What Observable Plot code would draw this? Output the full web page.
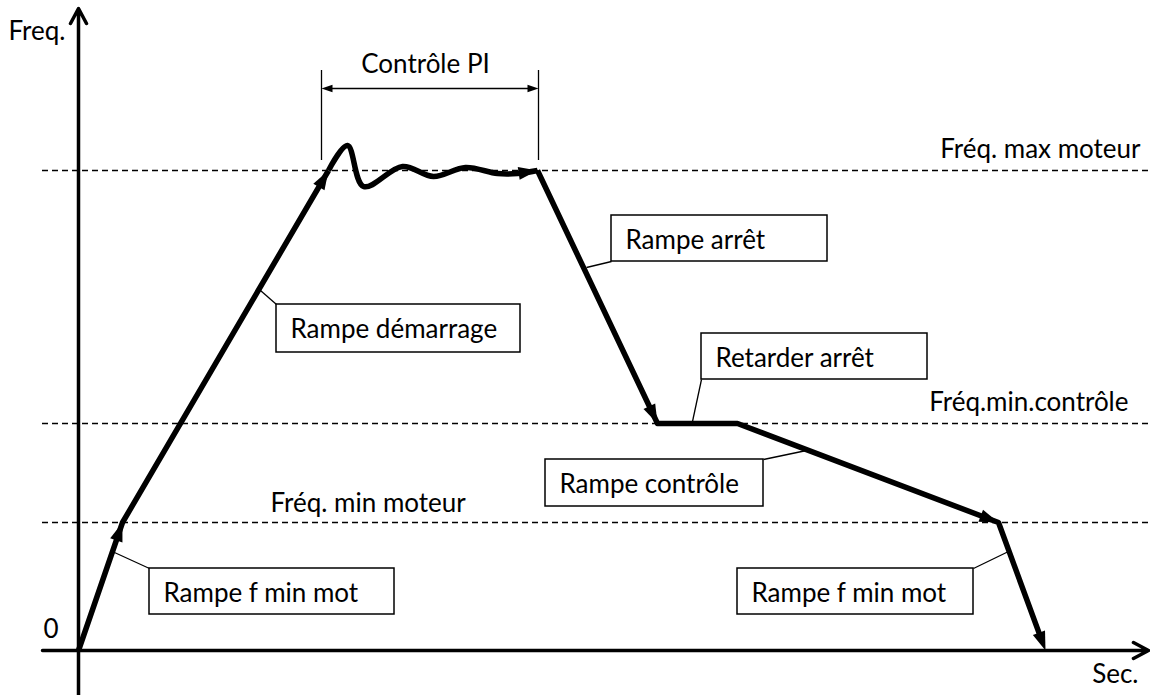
<!DOCTYPE html>
<html>
<head>
<meta charset="utf-8">
<script src="https://cdn.jsdelivr.net/npm/d3@7"></script>
<script src="https://cdn.jsdelivr.net/npm/@observablehq/plot@0.6"></script>
<style>
  body { margin: 0; background: #ffffff; }
  #chart svg { display: block; }
</style>
</head>
<body>
<div id="chart"></div>
<script>
// ---- Data (time in s, frequency in arbitrary units) ----
const levelNames = ["Fréq. max moteur", "Fréq.min.contrôle", "Fréq. min moteur"];
const levelValues = [48, 22.7, 12.8];
const levelLabelT = [106.2, 105.0, 19.2];
const levelLabelF = [50.1, 24.8, 14.7];
const levelLabelAnchor = ["end", "end", "start"];

// Start ramps: 0 -> f min moteur -> f max moteur
const startT = [0, 4.4, 25.0];
const startF = [0, 12.8, 48];
// PI control oscillation around f max
const piT = [25.0, 26.9, 28.5, 32.4, 35.5, 38.7, 41.9, 43.9, 45.9];
const piF = [48, 50.5, 46.4, 48.4, 47.4, 48.3, 47.7, 47.7, 48];
// Stop ramps
const stopT = [45.9, 57.9, 65.9, 92.0, 96.7];
const stopF = [48, 22.7, 22.7, 12.8, 0];

// PI control span
const piSpanT = [24.3, 46.0];
const piSpanF = [49, 58];
const piArrowF = 56.2;

// Annotation boxes
const boxLabels = ["Rampe f min mot", "Rampe démarrage", "Rampe arrêt", "Retarder arrêt", "Rampe contrôle", "Rampe f min mot"];
const boxT1 = [7.1, 19.8, 53.3, 62.3, 46.7, 65.9];
const boxT2 = [31.6, 44.2, 74.9, 84.9, 68.5, 89.5];
const boxFTop = [8.2, 34.6, 43.5, 31.7, 19.1, 8.2];
const boxFBottom = [3.6, 29.8, 38.9, 27.1, 14.4, 3.6];
// Leader lines: point on curve -> box corner
const leaderT1 = [3.6, 18.2, 50.8, 61.4, 72.8, 93.0];
const leaderF1 = [9.8, 36.0, 38.3, 22.9, 20.0, 9.9];
const leaderT2 = [7.1, 19.8, 53.3, 62.3, 68.5, 89.5];
const leaderF2 = [8.2, 34.6, 38.9, 27.1, 19.1, 8.2];

// Axis texts
const axisTexts = ["Freq.", "0", "Sec.", "Contrôle PI"];
const axisTextT = [-7.0, -3.5, 106.0, 34.7];
const axisTextF = [61.9, 2.1, -2.4, 58.6];
const axisTextAnchor = ["start", "start", "end", "middle"];

// ---- Derived tables ----
const zip = (ts, fs) => ts.map((t, i) => ({t, f: fs[i]}));
const startPts = zip(startT, startF);
const piPts = zip(piT, piF);
const stopPts = zip(stopT, stopF);

function head(pts, i) {
  const a = pts[i - 1], b = pts[i];
  return {t: b.t, f: b.f, angle: Math.atan2(b.t - a.t, b.f - a.f) * 180 / Math.PI};
}
const heads = [
  head(startPts, 1), head(startPts, 2),
  head(piPts, piPts.length - 1),
  head(stopPts, 1), head(stopPts, 3), head(stopPts, 4)
];
// shorten last stop segment so the line does not poke through the tip
const stopDraw = stopPts.map((p, i) => {
  if (i !== stopPts.length - 1) return p;
  const a = stopPts[i - 1], dx = p.t - a.t, dy = p.f - a.f, L = Math.hypot(dx, dy);
  return {t: p.t - dx / L * 1.0, f: p.f - dy / L * 1.0};
});

const levels = levelNames.map((name, i) => ({name, f: levelValues[i], lt: levelLabelT[i], lf: levelLabelF[i], anchor: levelLabelAnchor[i]}));
const boxes = boxLabels.map((label, i) => ({label, t1: boxT1[i], t2: boxT2[i], fTop: boxFTop[i], fBottom: boxFBottom[i]}));
const leaders = leaderT1.map((t, i) => ({t1: t, f1: leaderF1[i], t2: leaderT2[i], f2: leaderF2[i]}));
const texts = axisTexts.map((text, i) => ({text, t: axisTextT[i], f: axisTextF[i], anchor: axisTextAnchor[i]}));
const labels = [
  ...levels.map(d => ({text: d.name, t: d.lt, f: d.lf, anchor: d.anchor})),
  ...texts
];
const piHeads = [
  {t: piSpanT[0], f: piArrowF, angle: -90},
  {t: piSpanT[1], f: piArrowF, angle: 90}
];

// Filled arrowhead symbol, tip at origin pointing up
const arrowHead = {
  draw(context, size) {
    const L = Math.sqrt(size / Math.PI);
    const w = L * 0.34;
    context.moveTo(0, 0);
    context.lineTo(-w, L);
    context.lineTo(w, L);
    context.closePath();
  }
};

const FONT = 26;
const labelMark = (anchor) => Plot.text(labels.filter(d => d.anchor === anchor),
  {x: "t", y: "f", text: "text", textAnchor: anchor, fontSize: FONT, fill: "#000"});

const chart = Plot.plot({
  width: 1150,
  height: 695,
  margin: 0,
  x: {domain: [-7.8, 107.2], axis: null},
  y: {domain: [-4.5, 65], axis: null},
  style: {fontFamily: "Lato, 'Open Sans', sans-serif", background: "#ffffff", color: "#000"},
  marks: [
    // dashed reference levels
    Plot.ruleY(levels, {y: "f", x1: -3.6, x2: 107.2, stroke: "#000", strokeWidth: 1.3, strokeDasharray: "6,4"}),
    // axes
    Plot.arrow([{x1: 0, y1: -4.5, x2: 0, y2: 64.2}, {x1: -3.6, y1: 0, x2: 107.0, y2: 0}],
      {x1: "x1", y1: "y1", x2: "x2", y2: "y2", stroke: "#000", strokeWidth: 3.5, headLength: 7.3, headAngle: 56}),
    labelMark("start"),
    labelMark("end"),
    labelMark("middle"),
    // PI span bracket
    Plot.ruleX(piSpanT, {x: d => d, y1: piSpanF[0], y2: piSpanF[1], stroke: "#000", strokeWidth: 1.3}),
    Plot.link([{a: piSpanT[0] + 0.5, b: piSpanT[1] - 0.5}], {x1: "a", x2: "b", y1: piArrowF, y2: piArrowF, stroke: "#000", strokeWidth: 1.3}),
    Plot.dot(piHeads, {x: "t", y: "f", rotate: "angle", symbol: arrowHead, r: 11, fill: "#000", stroke: "none"}),
    // frequency profile
    Plot.line(startPts, {x: "t", y: "f", stroke: "#000", strokeWidth: 5.5, strokeLinejoin: "round", strokeLinecap: "butt"}),
    Plot.line(piPts, {x: "t", y: "f", curve: "catmull-rom", stroke: "#000", strokeWidth: 5.5, strokeLinecap: "butt"}),
    Plot.line(stopDraw, {x: "t", y: "f", stroke: "#000", strokeWidth: 5.5, strokeLinejoin: "round", strokeLinecap: "butt"}),
    Plot.dot(heads, {x: "t", y: "f", rotate: "angle", symbol: arrowHead, r: 19, fill: "#000", stroke: "none"}),
    // annotation leaders and boxes
    Plot.link(leaders, {x1: "t1", y1: "f1", x2: "t2", y2: "f2", stroke: "#000", strokeWidth: 1.3}),
    Plot.rect(boxes, {x1: "t1", x2: "t2", y1: "fTop", y2: "fBottom", fill: "#fff", stroke: "#000", strokeWidth: 1.5}),
    Plot.text(boxes, {x: d => d.t1 + 1.4, y: d => d.fTop - 2.47, text: "label", textAnchor: "start", fontSize: FONT, fill: "#000"})
  ]
});
document.getElementById("chart").appendChild(chart);
</script>
</body>
</html>
